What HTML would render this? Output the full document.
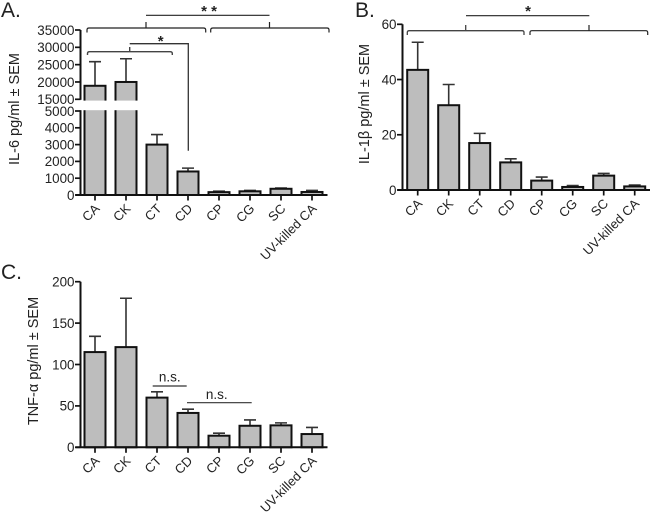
<!DOCTYPE html>
<html>
<head>
<meta charset="utf-8">
<style>
html,body{margin:0;padding:0;background:#fff;width:650px;height:513px;overflow:hidden}
svg{display:block;font-family:"Liberation Sans",sans-serif;fill:#222;filter:blur(0.3px)}
</style>
</head>
<body>
<svg id="chart" width="650" height="513" viewBox="0 0 650 513" xmlns="http://www.w3.org/2000/svg">
  <g id="panel-a"></g>
  <g id="panel-b"></g>
  <g id="panel-c"></g>

  <g fill="none" stroke="#222" stroke-width="1.2">
    <path d="M146 15.3H269.5"/>
    <path d="M87 32.5V30Q87 28 89 28H203.5Q205.7 28 205.7 30V32.5M146 28V22"/>
    <path d="M210.7 32.5V30Q210.7 28 213 28H327Q329 28 329 30V32.5M269.5 28V22"/>
    <path stroke="#444" stroke-width="1.4" d="M87.5 55V53.5Q87.5 51.7 89.5 51.7H170Q172.3 51.7 172.3 53.5V55M129.7 51.7V47"/>
    <path stroke="#333" stroke-width="1.3" d="M129.7 43.7H188.3V150.7"/>
  </g>
  <text x="209" y="16" font-size="15" font-weight="bold" text-anchor="middle">* *</text>
  <text x="160.7" y="46" font-size="15" font-weight="bold" text-anchor="middle">*</text>

  <g fill="none" stroke="#222" stroke-width="1.2">
    <path d="M466 15.7H589.3"/>
    <path stroke="#444" stroke-width="1.3" d="M407.3 35V32.5Q407.3 30.7 409.3 30.7H522Q524 30.7 524 32.5V35M465.7 30.7V25"/>
    <path d="M530 35V32.5Q530 30.7 532 30.7H645.7Q647.7 30.7 647.7 32.5V35M589 30.7V25"/>
  </g>
  <text x="528" y="16" font-size="15" font-weight="bold" text-anchor="middle">*</text>

  <g fill="none" stroke="#333" stroke-width="1.2">
    <path d="M152.7 386H186.7"/>
    <path d="M187 402.7H251.7"/>
  </g>
  <text x="169.7" y="381.5" font-size="13.5" text-anchor="middle">n.s.</text>
  <text x="216.7" y="399" font-size="13.5" text-anchor="middle">n.s.</text>

  <text x="1" y="17" font-size="21">A.</text>
  <text x="355" y="17" font-size="21">B.</text>
  <text x="1" y="279" font-size="21">C.</text>
</svg>
<script>
const categories = ["CA", "CK", "CT", "CD", "CP", "CG", "SC", "UV-killed CA"];

const il6Means = [18900, 20000, 3000, 1400, 170, 220, 370, 180];
const il6Upper = [25850, 26700, 3600, 1600, 230, 270, 410, 270];
const il6LowerTicks = [0, 1000, 2000, 3000, 4000, 5000];
const il6UpperTicks = [15000, 20000, 25000, 30000, 35000];

const il1bMeans = [43.5, 30.7, 17, 10, 3.4, 1.1, 5.2, 1.3];
const il1bUpper = [53.5, 38.2, 20.5, 11.3, 4.7, 1.6, 6, 1.8];
const il1bTicks = [0, 20, 40, 60];

const tnfMeans = [115, 121, 60, 41.5, 14, 26, 26.5, 16];
const tnfUpper = [134, 180, 67, 46, 17, 33, 29.5, 24];
const tnfTicks = [0, 50, 100, 150, 200];

const NS = "http://www.w3.org/2000/svg";
function make(parent, tag, attrs, text) {
  const el = document.createElementNS(NS, tag);
  for (const k in attrs) el.setAttribute(k, attrs[k]);
  if (text !== undefined) el.textContent = text;
  parent.appendChild(el);
  return el;
}
function linear(d0, d1, r0, r1) {
  return v => r0 + (v - d0) * (r1 - r0) / (d1 - d0);
}

function drawPanel(id, cfg) {
  const g = document.getElementById(id);
  const bx = i => cfg.x0 + i * 31;
  const base = cfg.base;
  const barW = 21;

  cfg.means.forEach((m, i) => {
    const cx = bx(i);
    const yTop = cfg.y(m);
    const yErr = cfg.y(cfg.upper[i]);
    const err = make(g, "path", {
      d: "M" + cx + " " + yTop + "V" + yErr + "M" + (cx - 6) + " " + yErr + "H" + (cx + 6),
      fill: "none", stroke: "#333", "stroke-width": 1.6
    });
    
    
    const bar = make(g, "rect", {
      x: cx - barW / 2, y: yTop, width: barW, height: base - yTop,
      fill: "#bdbdbd", stroke: "#111", "stroke-width": 2
    });
    
    
  });

  if (cfg.gap) {
    const gap = make(g, "rect", { x: cfg.axisX - 8, y: cfg.gap[0], width: 70, height: cfg.gap[1] - cfg.gap[0], fill: "#fff" });
    
    
  }

  cfg.axisSegments.forEach(s => {
    const ax = make(g, "line", { x1: cfg.axisX, x2: cfg.axisX, y1: s[0], y2: s[1], stroke: "#111", "stroke-width": 2 });
    
    
  });
  const xAxis = make(g, "line", { x1: cfg.axisX - 5, x2: bx(7) + 15.5, y1: base, y2: base, stroke: "#111", "stroke-width": 2 });
  
  

  cfg.ticks.forEach(t => {
    const ty = t.scale(t.value);
    const tick = make(g, "line", { x1: cfg.axisX - 5.5, x2: cfg.axisX, y1: ty, y2: ty, stroke: "#111", "stroke-width": 1.7 });
    
    
    const lab = make(g, "text", { x: cfg.axisX - 6, y: ty + 4.8, "font-size": 13.4, "text-anchor": "end" }, t.value);
    
    
  });

  categories.forEach((c, i) => {
    const cx = bx(i);
    const tick = make(g, "line", { x1: cx, x2: cx, y1: base, y2: base + 5.5, stroke: "#111", "stroke-width": 1.7 });
    
    
    const lx = cx + 2.5;
    const ly = base + 11.5;
    const lab = make(g, "text", {
      x: lx, y: ly, "font-size": 13, "text-anchor": "end",
      transform: "rotate(-45 " + lx + " " + ly + ") translate(0 4)"
    }, c);
    
    
  });

  const title = make(g, "text", {
    x: cfg.titleX, y: cfg.titleY, "font-size": 14.5, "text-anchor": "middle",
    transform: "rotate(-90 " + cfg.titleX + " " + cfg.titleY + ")"
  }, cfg.title);
  
  
}

const il6LowScale = linear(0, 5000, 195, 111);
const il6HighScale = linear(15000, 35000, 99.3, 30);
const il6Scale = v => v <= 5000 ? il6LowScale(v) : il6HighScale(v);
drawPanel("panel-a", {
  x0: 95, axisX: 80.5, base: 195,
  means: il6Means, upper: il6Upper, y: il6Scale,
  gap: [100.6, 110.2],
  axisSegments: [[30, 99.8], [110.2, 195.8]],
  ticks: il6LowerTicks.map(v => ({ value: v, scale: il6LowScale }))
    .concat(il6UpperTicks.map(v => ({ value: v, scale: il6HighScale }))),
  title: "IL-6 pg/ml ± SEM", titleX: 19, titleY: 109
});

const il1bScale = linear(0, 60, 190, 24.3);
drawPanel("panel-b", {
  x0: 417.7, axisX: 402.5, base: 190,
  means: il1bMeans, upper: il1bUpper, y: il1bScale,
  axisSegments: [[24.3, 190.8]],
  ticks: il1bTicks.map(v => ({ value: v, scale: il1bScale })),
  title: "IL-1β pg/ml ± SEM", titleX: 369, titleY: 104
});

const tnfScale = linear(0, 200, 447.3, 281.7);
drawPanel("panel-c", {
  x0: 95, axisX: 80.5, base: 447.3,
  means: tnfMeans, upper: tnfUpper, y: tnfScale,
  axisSegments: [[281.7, 448]],
  ticks: tnfTicks.map(v => ({ value: v, scale: tnfScale })),
  title: "TNF-α pg/ml ± SEM", titleX: 38, titleY: 361
});
</script>
</body>
</html>
